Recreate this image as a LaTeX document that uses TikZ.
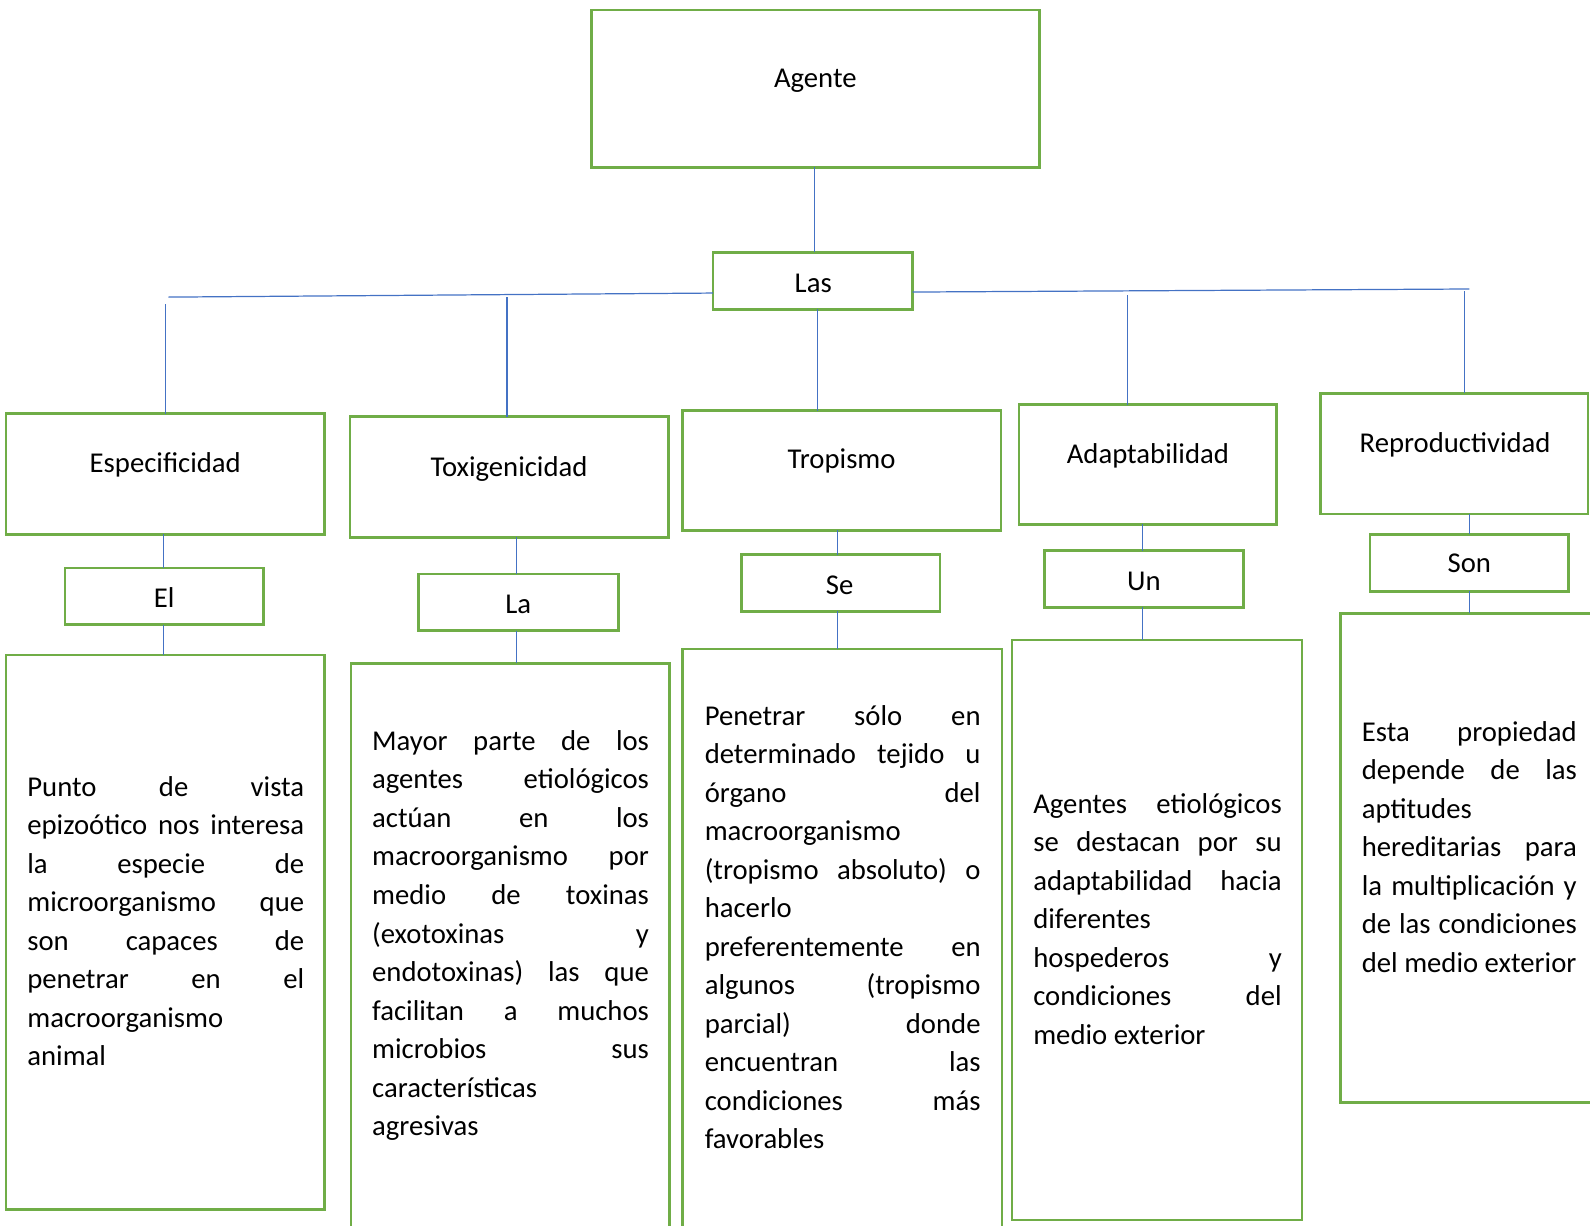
\documentclass[tikz,border=0pt]{standalone}
\usepackage{fontspec}
\setmainfont{Carlito}
\definecolor{gbox}{HTML}{70AD47}
\definecolor{bline}{HTML}{4472C4}
\newcommand\txtfont{\fontsize{28.3}{38}\selectfont}
\newcommand\jl[1]{{\spaceskip=0pt\xspaceskip=0pt\relax\makebox[\hsize][s]{\strut #1}}}
\newcommand\lft[1]{{\spaceskip=0pt\xspaceskip=0pt\relax\mbox{\strut #1}}}
\tikzset{
  box/.style={draw=gbox, line width=2.6pt, rectangle, inner sep=0pt, outer sep=0pt},
  conn/.style={draw=bline, line width=1.2pt},
  lbl/.style={font=\txtfont, inner sep=0pt, outer sep=0pt, anchor=base},
  body/.style={font=\txtfont, inner sep=0pt, outer sep=0pt, anchor=north west, align=left,
    execute at begin node={\setlength\parindent{0pt}}},
}
\newcommand\bx[5]{\node[box, minimum width=#4pt, minimum height=#5pt] (#1) at (#2,#3) {};}
\begin{document}
\begin{tikzpicture}[x=1pt,y=-1pt]
\useasboundingbox (0,0) rectangle (1568,1209);
% boxes
\bx{agente}{804}{87.5}{442}{155}
\bx{las}{801.5}{277}{197}{56}
\bx{esp}{163}{467.5}{314}{119}
\bx{tox}{502}{470.5}{314}{119}
\bx{trop}{830}{464}{314}{118}
\bx{adapt}{1132}{458}{254}{118}
\bx{repr}{1434}{447.5}{264}{119}
\bx{el}{162}{588}{196}{56}
\bx{la}{511.5}{594}{197}{56}
\bx{se}{829}{575}{196}{56}
\bx{un}{1128}{571}{196}{56}
\bx{son}{1449}{555}{196}{56}
\bx{t1}{163}{919.5}{314}{547}
\bx{t2}{503}{957}{314}{606}
\bx{t3}{830.5}{950}{315}{620}
\bx{t4}{1141}{917}{286}{572}
\bx{t5}{1481}{846}{318}{482}
% connectors
\coordinate (hl) at (166,293);
\coordinate (hr) at (1449,285);
\coordinate (dE) at (163,300);
\coordinate (dT) at (500,293);
\coordinate (dA) at (1112,291);
\coordinate (dR) at (1444,287);
\draw[conn] ([xshift=-1pt]agente.south) -- ([xshift=-1pt]agente.south |- las.north);
\draw[conn] ([yshift=-12pt]las.west) -- (hl);
\draw[conn] ([yshift=-11pt]las.east) -- (hr);
\draw[conn] (dE) -- (dE |- esp.north);
\draw[conn] (dT) -- (dT |- tox.north);
\draw[conn] ([xshift=4.5pt]las.south) -- ([xshift=4.5pt]las.south |- trop.north);
\draw[conn] (dA) -- (dA |- adapt.north);
\draw[conn] (dR) -- (dR |- repr.north);
\draw[conn] ([xshift=-1pt]el.north |- esp.south) -- ([xshift=-1pt]el.north);
\draw[conn] ([xshift=-1pt]el.south) -- ([xshift=-1pt]el.south |- t1.north);
\draw[conn] ([xshift=-2pt]la.north |- tox.south) -- ([xshift=-2pt]la.north);
\draw[conn] ([xshift=-2pt]la.south) -- ([xshift=-2pt]la.south |- t2.north);
\draw[conn] ([xshift=-3pt]se.north |- trop.south) -- ([xshift=-3pt]se.north);
\draw[conn] ([xshift=-3pt]se.south) -- ([xshift=-3pt]se.south |- t3.north);
\draw[conn] ([xshift=-1pt]un.north |- adapt.south) -- ([xshift=-1pt]un.north);
\draw[conn] ([xshift=-1pt]un.south) -- ([xshift=-1pt]un.south |- t4.north);
\draw[conn] (son.north |- repr.south) -- (son.north);
\draw[conn] (son.south) -- (son.south |- t5.north);
% labels
\node[lbl] (lAg) at (804,86) {Agente};
\node[lbl] (lLas) at (802,288) {Las};
\node[lbl] (lEsp) at (163,466) {Especificidad};
\node[lbl] (lTox) at (502,470) {Toxigenicidad};
\node[lbl] (lTrop) at (830,462) {Tropismo};
\node[lbl] (lAd) at (1132,457) {Adaptabilidad};
\node[lbl] (lRep) at (1435,446) {Reproductividad};
\node[lbl] (lEl) at (162,599) {El};
\node[lbl] (lLa) at (511,605) {La};
\node[lbl] (lSe) at (828,586) {Se};
\node[lbl] (lUn) at (1128,582) {Un};
\node[lbl] (lSon) at (1449,565) {Son};
% body texts
\node[body, text width=273pt] (b1) at (27,758.4) {%
\jl{Punto de vista}\\
\jl{epizoótico nos interesa}\\
\jl{la especie de}\\
\jl{microorganismo que}\\
\jl{son capaces de}\\
\jl{penetrar en el}\\
\lft{macroorganismo}\\
\lft{animal}};
\node[body, text width=273pt] (b2) at (367,713.4) {%
\jl{Mayor parte de los}\\
\jl{agentes etiológicos}\\
\jl{actúan en los}\\
\jl{macroorganismo por}\\
\jl{medio de toxinas}\\
\jl{(exotoxinas y}\\
\jl{endotoxinas) las que}\\
\jl{facilitan a muchos}\\
\jl{microbios sus}\\
\lft{características}\\
\lft{agresivas}};
\node[body, text width=272pt] (b3) at (695,688.4) {%
\jl{Penetrar sólo en}\\
\jl{determinado tejido u}\\
\jl{órgano del}\\
\lft{macroorganismo}\\
\jl{(tropismo absoluto) o}\\
\lft{hacerlo}\\
\jl{preferentemente en}\\
\jl{algunos (tropismo}\\
\jl{parcial) donde}\\
\jl{encuentran las}\\
\jl{condiciones más}\\
\lft{favorables}};
\node[body, text width=245pt] (b4) at (1019,775.4) {%
\jl{Agentes etiológicos}\\
\jl{se destacan por su}\\
\jl{adaptabilidad hacia}\\
\lft{diferentes}\\
\jl{hospederos y}\\
\jl{condiciones del}\\
\lft{medio exterior}};
\node[body, text width=212pt] (b5) at (1343,704.4) {%
\jl{Esta propiedad}\\
\jl{depende de las}\\
\lft{aptitudes}\\
\jl{hereditarias para}\\
\jl{la multiplicación y}\\
\jl{de las condiciones}\\
\lft{del medio exterior}};
\end{tikzpicture}
\end{document}
